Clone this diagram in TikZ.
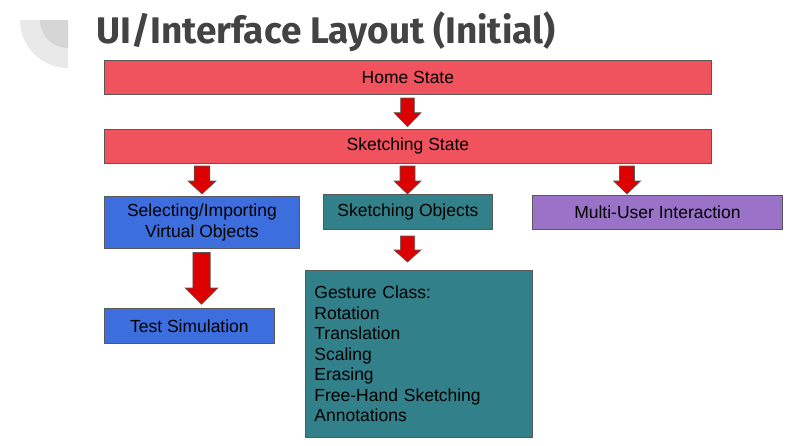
\documentclass[tikz,border=0pt]{standalone}
\usepackage{fontspec}
\setmainfont{Liberation Sans}
\newfontfamily\titlefont{Fira Sans}
\definecolor{stateRed}{RGB}{240,82,94}
\definecolor{selBlue}{RGB}{61,110,222}
\definecolor{skTeal}{RGB}{50,128,138}
\definecolor{muPurple}{RGB}{154,114,199}
\definecolor{arrRed}{RGB}{221,0,0}
\definecolor{edgeGray}{RGB}{89,89,89}
\definecolor{titleGray}{RGB}{67,67,67}
\definecolor{cornerOuter}{RGB}{233,233,233}
\definecolor{cornerInner}{RGB}{214,214,214}
\newcommand\blockarrow[6]{% x, ytop, yhead, ytip, shaft half, head half
  \fill[arrRed, draw=edgeGray, line width=0.6pt, line join=miter]
    (#1-#5,#2) -- (#1+#5,#2) -- (#1+#5,#3) -- (#1+#6,#3) -- (#1,#4)
    -- (#1-#6,#3) -- (#1-#5,#3) -- cycle;}
\tikzset{
  box/.style={draw=edgeGray, line width=0.8pt, anchor=north west, inner sep=0pt,
    align=center, text=black, font=\fontsize{17.5}{20.5}\selectfont},
}
\begin{document}
\begin{tikzpicture}[x=1pt,y=-1pt]
\useasboundingbox (0,0) rectangle (792,445);
% corner decoration
\fill[cornerOuter] (68,20) -- (20,20) arc[start angle=180, end angle=90, radius=48] -- cycle;
\fill[cornerInner] (68,20) -- (40,20) arc[start angle=180, end angle=90, radius=28] -- cycle;
% title
\node[anchor=base west, inner sep=0pt, text=titleGray,
  font=\titlefont\bfseries\fontsize{37}{40}\selectfont] (title) at (96,43) {UI/Interface Layout (Initial)};
% boxes
\node[box, fill=stateRed, minimum width=607pt, minimum height=34pt] (home) at (104,60) {Home State};
\node[box, fill=stateRed, minimum width=607pt, minimum height=34pt] (sketch) at (104,129) {Sketching State};
\node[box, fill=selBlue, minimum width=195pt, minimum height=52pt] (select) at (104,196) {Selecting/Importing\\Virtual Objects};
\node[box, fill=skTeal, minimum width=169pt, minimum height=35pt] (skobj) at (323,194) {Sketching Objects};
\node[box, fill=muPurple, minimum width=250pt, minimum height=34pt] (multi) at (532,195) {Multi-User Interaction};
\node[box, fill=selBlue, minimum width=170pt, minimum height=35pt] (test) at (104,308) {Test Simulation};
\node[box, fill=skTeal, minimum height=167pt, text width=209pt, inner xsep=9pt, align=left] (gesture) at (305,270)
  {Gesture Class:\\Rotation\\Translation\\Scaling\\Erasing\\Free-Hand Sketching\\Annotations};
% arrows
\blockarrow{407.5}{98}{112.7}{126.7}{6.8}{13.5}
\blockarrow{202}{166}{181}{194}{7.8}{14}
\blockarrow{407.5}{166}{181}{194}{7.5}{13.5}
\blockarrow{627}{166}{181}{194}{7.5}{13.5}
\blockarrow{407.5}{236}{250}{262}{7.2}{13.5}
\blockarrow{201.5}{252.5}{288}{304.3}{8.7}{16.3}
\end{tikzpicture}
\end{document}
